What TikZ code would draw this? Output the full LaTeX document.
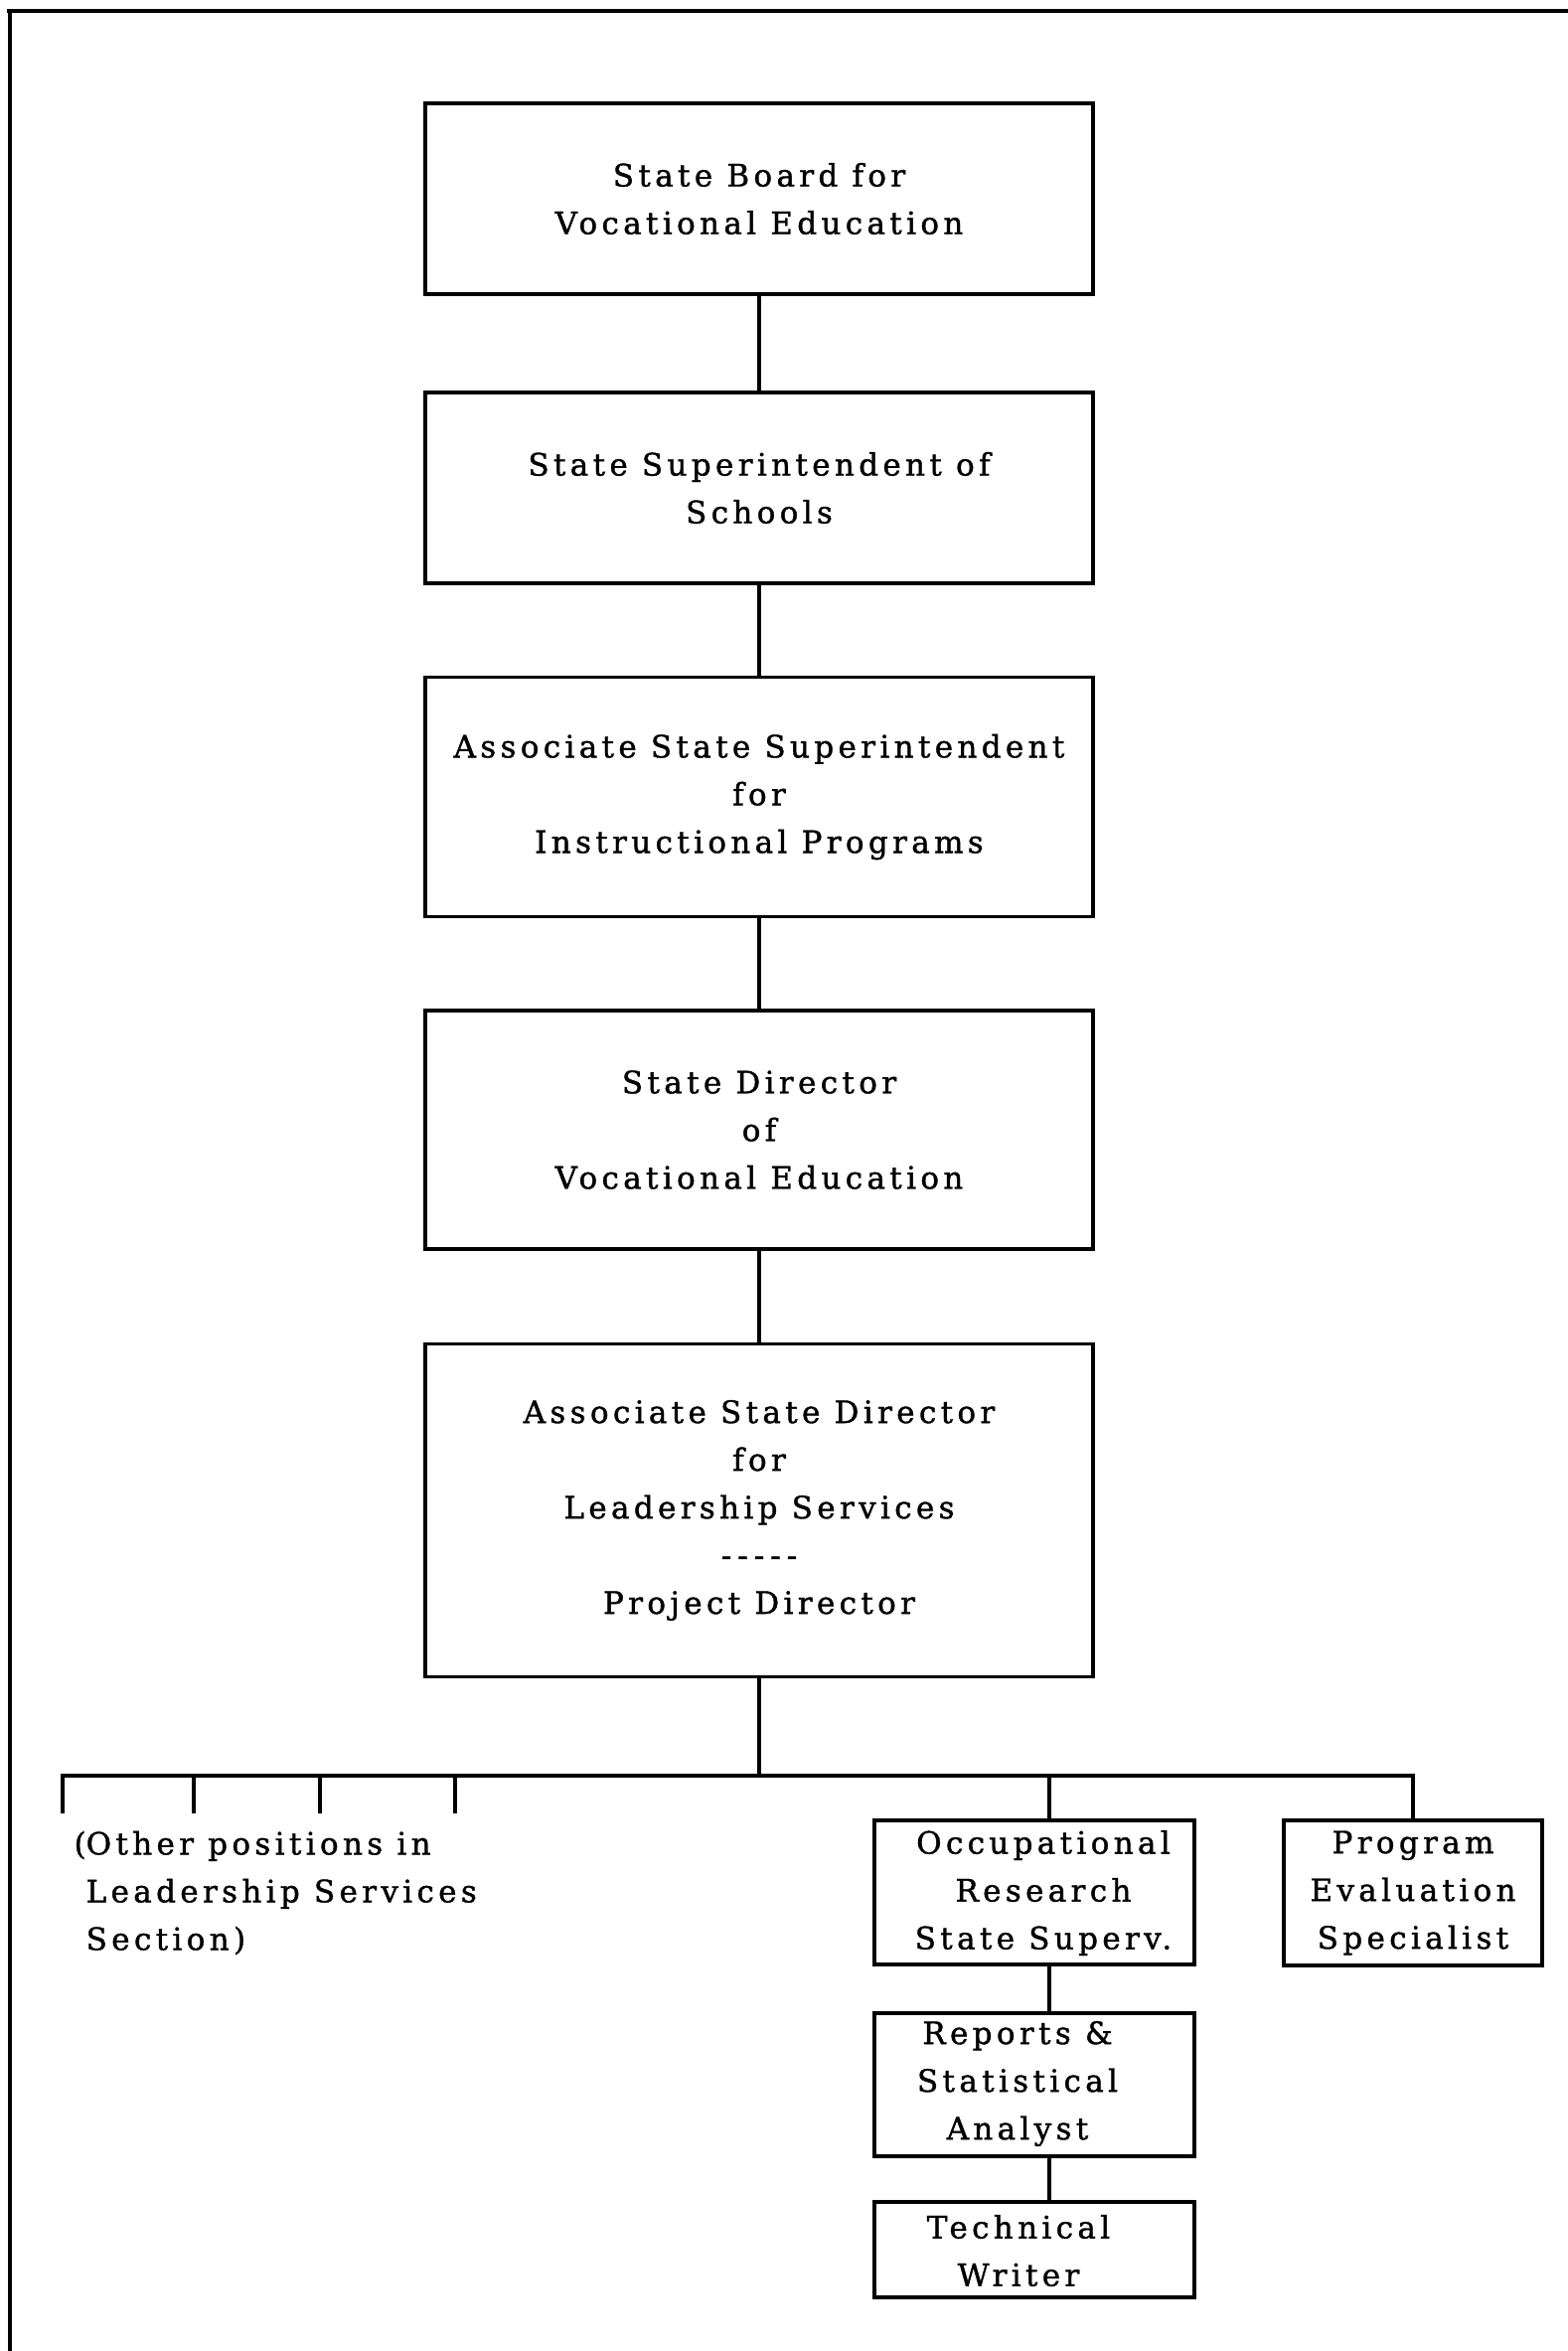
\documentclass[tikz,border=0pt]{standalone}
\usepackage{fontspec}
\newfontfamily\tw{DejaVu Serif}[LetterSpace=14, FakeBold=1.2]
\begin{document}
\begin{tikzpicture}[x=1pt,y=-1pt,
  every path/.style={line width=3.4pt, line cap=rect},
  txt/.style={font={\tw\fontsize{31pt}{48pt}\selectfont}, align=center, inner sep=0pt},
  bigbox/.style={draw, line width=3.4pt, rectangle, inner sep=0pt, minimum width=672pt, txt},
  smallbox/.style={draw, line width=3.4pt, rectangle, inner sep=0pt, txt}]
\useasboundingbox (0,0) rectangle (1578,2366);
% frame
\draw (9,11) -- (1578,11);
\draw (10,11) -- (10,2366);
% main column
\node[bigbox, minimum height=192pt] (b1) at (764,200) {State Board for\\Vocational Education};
\node[bigbox, minimum height=192pt] (b2) at (764,491) {State Superintendent of\\Schools};
\node[bigbox, minimum height=241pt] (b3) at (764,802) {Associate State Superintendent\\for\\Instructional Programs};
\node[bigbox, minimum height=240pt] (b4) at (764,1137) {State Director\\of\\Vocational Education};
\node[bigbox, minimum height=335pt] (b5) at (764,1520) {Associate State Director\\for\\Leadership Services\\-\kern6pt-\kern6pt-\kern6pt-\kern6pt-\\Project Director};
\draw (b1) -- (b2);
\draw (b2) -- (b3);
\draw (b3) -- (b4);
\draw (b4) -- (b5);
% bus
\coordinate (bus) at (764,1787);
\coordinate (t1) at (63,1787);
\coordinate (t2) at (195,1787);
\coordinate (t3) at (322,1787);
\coordinate (t4) at (458,1787);
\coordinate (oc) at (1056,1787);
\coordinate (pr) at (1422,1787);
\draw (b5.south) -- (bus);
\draw (t1) -- (pr);
\foreach \t in {t1,t2,t3,t4} { \draw (\t) -- ++(0,36); }
\node[txt, align=left, anchor=west] (other) at (85,1905) {\llap{(}Other positions in\\Leadership Services\\Section)};
% right branches
\node[smallbox, minimum width=322pt, minimum height=145pt] (occ) at (1041,1904.5) {};
\node[txt] (occt) at (1050,1905) {Occupational\\Research\\State Superv.};
\node[smallbox, minimum width=260pt, minimum height=146pt] (prog) at (1422,1905) {Program\\Evaluation\\Specialist};
\node[smallbox, minimum width=322pt, minimum height=144pt] (rep) at (1041,2098) {};
\node[txt] (rept) at (1024,2097) {Reports \&\\Statistical\\Analyst};
\node[smallbox, minimum width=322pt, minimum height=96pt] (tech) at (1041,2264) {};
\node[txt] (techt) at (1025,2265) {Technical\\Writer};
\draw (oc) -- (oc |- occ.north);
\draw (pr) -- (prog.north);
\draw (oc |- occ.south) -- (oc |- rep.north);
\draw (oc |- rep.south) -- (oc |- tech.north);
\end{tikzpicture}
\end{document}
